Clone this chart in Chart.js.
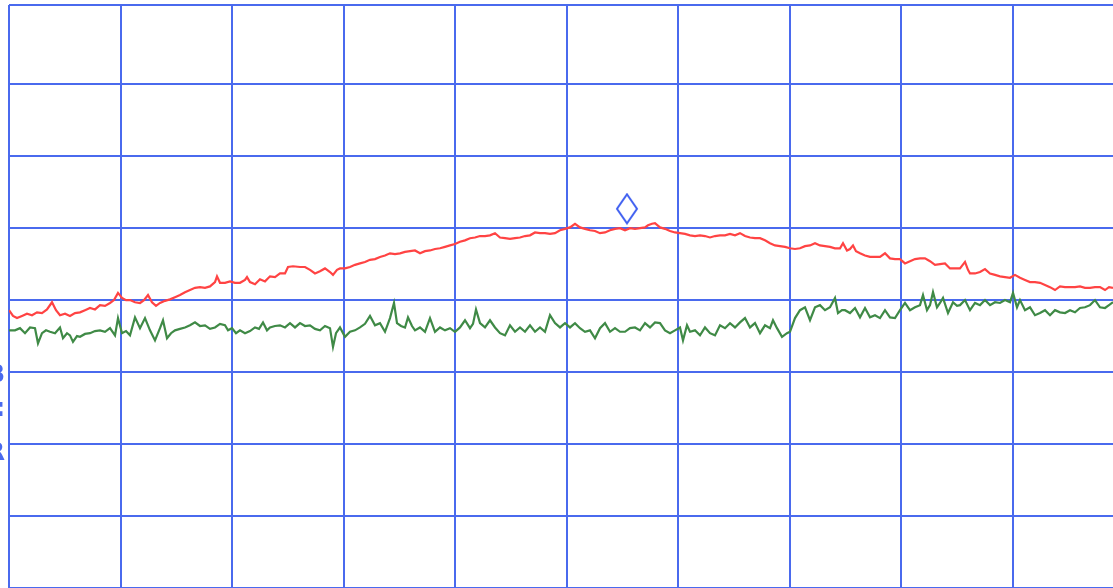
<!DOCTYPE html>
<html>
<head>
<meta charset="utf-8">
<script src="https://cdn.jsdelivr.net/npm/chart.js@4/dist/chart.umd.min.js"></script>
<style>
html,body{margin:0;padding:0;background:#fff;overflow:hidden;}
#c{display:block;}
</style>
</head>
<body>
<canvas id="c" width="1113" height="588"></canvas>
<script>
// Trace point index (x) and level in dB (y)
const redX = [0,4,8,13,18,23,28,33,38,43,47,51,56,61,66,71,76,81,86,91,96,101,105,109,113,117,121,126,131,135,139,143,147,151,156,161,166,171,176,181,186,191,196,201,206,208,211,216,221,226,231,236,238,241,246,251,256,261,266,271,276,279,284,291,296,301,306,311,316,321,324,328,331,336,341,346,351,356,361,366,371,376,381,386,391,396,401,406,411,416,421,426,431,436,441,446,451,456,461,466,471,476,481,486,491,496,501,506,511,516,521,526,531,536,541,546,551,556,561,566,571,576,581,586,591,596,601,606,611,616,621,626,631,636,639,643,646,651,656,661,666,671,676,681,686,691,696,701,706,711,716,721,726,731,736,741,746,751,756,761,766,771,776,781,786,791,796,801,806,811,816,821,826,831,834,838,841,844,847,851,856,861,866,871,876,881,886,891,896,901,906,911,916,921,926,931,936,941,946,951,956,959,961,966,971,976,981,986,991,996,1001,1006,1011,1016,1021,1026,1031,1036,1041,1046,1051,1056,1061,1066,1071,1076,1081,1086,1091,1096,1100,1104];
const redY = [-41.4,-42.2,-42.5,-42.2,-41.9,-42.1,-41.7,-41.8,-41.3,-40.3,-41.4,-42.1,-41.9,-42.2,-41.8,-41.7,-41.4,-41.1,-41.3,-40.7,-40.8,-40.4,-40.0,-39.0,-39.7,-40.0,-40.0,-40.3,-40.4,-40.0,-39.3,-40.3,-40.8,-40.4,-40.1,-39.9,-39.6,-39.3,-38.9,-38.6,-38.3,-38.2,-38.3,-38.1,-37.5,-36.7,-37.6,-37.6,-37.4,-37.6,-37.6,-37.2,-36.8,-37.5,-37.8,-37.1,-37.4,-36.7,-36.8,-36.3,-36.3,-35.4,-35.3,-35.4,-35.4,-35.8,-36.3,-36.0,-35.6,-36.1,-36.5,-35.8,-35.6,-35.6,-35.4,-35.1,-34.9,-34.7,-34.4,-34.3,-34.0,-33.8,-33.5,-33.6,-33.5,-33.3,-33.2,-33.1,-33.5,-33.2,-33.1,-32.9,-32.8,-32.6,-32.4,-32.2,-31.9,-31.7,-31.4,-31.3,-31.1,-31.1,-31.0,-30.7,-31.3,-31.4,-31.5,-31.4,-31.3,-31.1,-31.0,-30.6,-30.7,-30.7,-30.8,-30.7,-30.3,-30.1,-29.9,-29.4,-29.9,-30.1,-30.3,-30.4,-30.7,-30.6,-30.3,-30.1,-30.0,-30.3,-30.0,-30.1,-30.0,-29.9,-29.6,-29.4,-29.3,-29.9,-30.1,-30.4,-30.6,-30.7,-30.8,-31.0,-31.1,-31.0,-31.1,-31.3,-31.1,-31.0,-31.0,-30.8,-31.0,-30.7,-31.1,-31.3,-31.4,-31.4,-31.7,-32.1,-32.4,-32.5,-32.6,-32.8,-32.9,-32.8,-32.5,-32.4,-32.1,-32.4,-32.5,-32.6,-32.8,-32.8,-32.1,-33.1,-32.9,-32.4,-33.2,-33.5,-33.8,-34.0,-34.0,-34.0,-33.5,-34.2,-34.3,-34.3,-34.9,-34.6,-34.3,-34.2,-34.2,-34.6,-35.1,-35.0,-34.9,-35.6,-35.6,-35.6,-34.7,-35.8,-36.3,-36.3,-36.1,-35.7,-36.3,-36.5,-36.7,-36.8,-36.9,-36.5,-36.9,-37.2,-37.5,-37.5,-37.6,-37.9,-38.2,-38.6,-38.1,-38.2,-38.2,-38.2,-38.1,-38.3,-38.3,-38.2,-38.2,-38.6,-38.2,-38.3];

const greenX = [0,3,6,11,16,21,26,29,33,37,41,46,51,54,58,61,64,68,71,76,81,86,91,96,101,106,109,113,117,121,126,131,136,141,146,151,154,158,162,166,171,176,181,186,191,196,201,206,211,216,219,223,227,231,236,241,246,250,254,258,261,266,271,276,281,286,291,296,301,306,311,316,321,324,327,331,336,341,346,351,356,361,366,371,376,381,385,388,392,396,399,403,406,411,416,421,426,431,436,441,446,451,456,461,464,467,471,476,481,486,491,496,501,506,511,516,521,526,531,536,541,546,551,556,561,566,571,576,581,586,591,596,601,606,611,616,621,626,631,636,641,646,651,656,661,666,671,674,678,681,686,691,696,701,706,711,716,721,726,731,736,741,746,751,756,761,764,768,773,778,781,786,791,796,801,806,811,816,821,826,829,833,836,841,846,851,856,861,866,871,876,881,886,891,896,901,906,911,914,918,921,924,928,931,934,939,944,948,951,956,961,966,971,976,981,986,991,996,1001,1004,1008,1011,1016,1021,1026,1031,1036,1041,1046,1051,1056,1061,1066,1071,1076,1081,1086,1091,1096,1100,1104];
const greenY = [-44.2,-44.2,-44.2,-43.9,-44.6,-43.8,-43.9,-46.0,-44.6,-44.2,-44.4,-44.6,-43.8,-45.3,-44.6,-44.9,-45.8,-45.0,-45.1,-44.7,-44.6,-44.3,-44.2,-44.4,-43.9,-44.9,-42.5,-44.6,-44.3,-44.9,-42.4,-43.9,-42.5,-44.2,-45.6,-43.9,-42.8,-45.3,-44.6,-44.2,-44.0,-43.8,-43.5,-43.1,-43.6,-43.5,-44.0,-43.8,-43.3,-43.5,-44.2,-43.9,-44.6,-44.2,-44.6,-44.3,-43.8,-44.0,-43.1,-44.2,-43.8,-43.6,-43.5,-43.8,-43.2,-43.8,-43.2,-43.6,-43.5,-44.0,-44.2,-43.6,-43.9,-46.5,-44.6,-43.8,-45.1,-44.4,-44.2,-43.8,-43.3,-42.2,-43.5,-43.2,-44.4,-42.5,-40.4,-43.2,-43.6,-43.8,-42.4,-43.6,-44.2,-43.8,-44.4,-42.5,-44.4,-43.8,-44.2,-43.9,-44.4,-43.8,-42.8,-43.9,-43.3,-41.3,-43.2,-43.8,-42.8,-43.8,-44.6,-44.9,-43.5,-44.4,-43.8,-44.4,-43.5,-44.4,-43.8,-44.4,-42.1,-43.2,-43.8,-43.2,-43.8,-43.2,-43.9,-44.4,-44.2,-45.3,-43.9,-43.2,-44.4,-43.9,-44.4,-44.4,-43.9,-43.8,-44.2,-43.2,-43.8,-43.1,-43.2,-44.2,-44.6,-44.2,-43.8,-45.6,-43.5,-44.4,-44.2,-44.9,-43.8,-44.6,-44.9,-43.5,-43.9,-43.2,-43.8,-43.1,-42.5,-43.8,-43.2,-44.6,-43.5,-43.9,-42.8,-43.9,-45.1,-44.6,-44.4,-42.5,-41.4,-41.0,-42.8,-41.0,-40.7,-41.4,-41.0,-39.7,-41.8,-41.4,-41.4,-41.8,-41.1,-42.4,-41.1,-42.4,-42.1,-42.5,-41.4,-42.4,-42.5,-41.4,-40.4,-41.4,-41.0,-40.7,-39.3,-41.4,-40.7,-38.9,-41.0,-40.4,-39.7,-41.8,-40.3,-40.8,-40.7,-40.0,-41.4,-40.4,-40.7,-40.0,-40.7,-40.3,-40.4,-40.0,-40.3,-39.0,-41.0,-40.0,-41.4,-41.0,-42.1,-41.8,-41.4,-42.1,-41.4,-41.7,-41.8,-41.4,-41.7,-41.1,-41.0,-40.7,-40.0,-41.0,-41.1,-40.7,-40.3];

// Peak marker
const markerX = [618];
const markerY = [-29.4];

// Axis layout: 10 divisions of 111.5 points (only part of the 10th is visible), 10 dB per division
const xMin = 0, xMax = 1104, xStep = 111.5, xDivs = 10;
const yMin = -80, yMax = 1, yStep = 10;

// Partially visible screen annotation letters at the left edge
const edgeLabels = ['B', ':', 'R'];
const edgeLabelY = [-50.5, -55.2, -61.3];

const GRID = '#4a6aee';
const RED = '#ff4343';
const GREEN = '#3f8a46';

function pts(xs, ys){ return xs.map((x,i)=>({x:x, y:ys[i]})); }

// diamond marker image, bottom tip at image centre
const dia = document.createElement('canvas');
dia.width = 24; dia.height = 62;
(function(){
  const g = dia.getContext('2d');
  g.strokeStyle = '#3f5ff0';
  g.lineWidth = 2;
  g.beginPath();
  g.moveTo(12, 1.5);
  g.lineTo(22, 16);
  g.lineTo(12, 30.5);
  g.lineTo(2, 16);
  g.closePath();
  g.stroke();
})();

const edgeText = {
  id: 'edgeText',
  afterDraw(chart){
    const c = chart.ctx, ys = chart.scales.y;
    c.save();
    c.fillStyle = GRID;
    c.font = 'bold 24px "DejaVu Sans"';
    c.textAlign = 'right';
    c.textBaseline = 'middle';
    edgeLabels.forEach((t,i)=>{ c.fillText(t, 5, ys.getPixelForValue(edgeLabelY[i])); });
    c.restore();
  }
};

new Chart(document.getElementById('c'), {
  type: 'line',
  data: {
    datasets: [
      { label: 'Trace 1', data: pts(redX, redY), borderColor: RED, borderWidth: 2.2, pointRadius: 0, tension: 0, fill: false },
      { label: 'Trace 2', data: pts(greenX, greenY), borderColor: GREEN, borderWidth: 2.2, pointRadius: 0, tension: 0, fill: false },
      { label: 'Marker', data: pts(markerX, markerY), showLine: false, pointStyle: dia, pointRadius: 10, borderWidth: 0 }
    ]
  },
  options: {
    responsive: false,
    animation: false,
    devicePixelRatio: 1,
    layout: { autoPadding: false, padding: { left: 9, top: 5, right: 0, bottom: 0 } },
    plugins: { legend: { display: false }, tooltip: { enabled: false } },
    scales: {
      x: {
        type: 'linear', min: xMin, max: xMax,
        ticks: { display: false },
        afterBuildTicks: (scale)=>{
          const t = [];
          for (let i = 0; i < xDivs; i++) t.push({ value: i * xStep });
          scale.ticks = t;
        },
        grid: { drawTicks: false, lineWidth: 2, color: GRID },
        border: { display: false }
      },
      y: {
        type: 'linear', min: yMin, max: yMax,
        ticks: { display: false, stepSize: yStep },
        grid: { drawTicks: false, lineWidth: 2,
          color: (ctx)=> (ctx.tick && ctx.tick.value === 0) ? 'rgba(0,0,0,0)' : GRID },
        border: { display: false }
      }
    }
  },
  plugins: [edgeText]
});
</script>
</body>
</html>
